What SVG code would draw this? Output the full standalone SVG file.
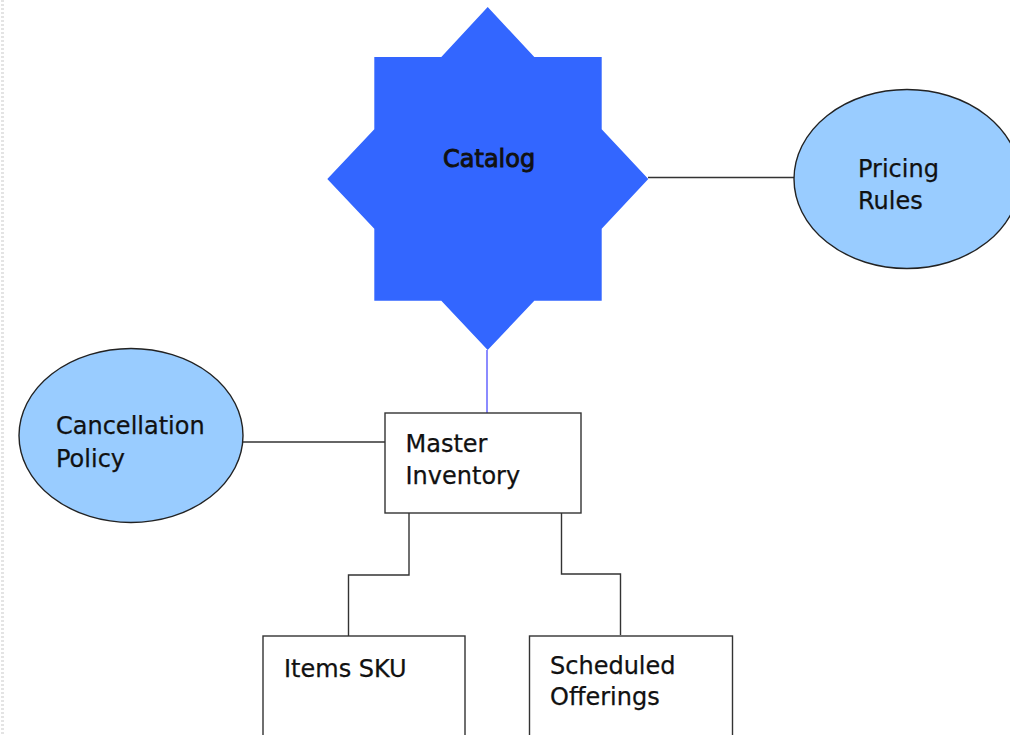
<svg xmlns="http://www.w3.org/2000/svg" width="1010" height="735" viewBox="0 0 1010 735">
  <style>
    .label { font-family: "DejaVu Sans", Verdana, sans-serif; font-size: 24px; fill: #111; stroke: #111; stroke-width: 0.25; }
    .title { stroke-width: 0.9; }
    .box { fill: #ffffff; stroke: #333; stroke-width: 1.4; }
    .oval { fill: #99ccff; stroke: #222; stroke-width: 1.4; }
    .wire { fill: none; stroke: #333; stroke-width: 1.4; }
    .wire-blue { fill: none; stroke: #5a5aff; stroke-width: 1.4; }
  </style>
  <rect width="1010" height="735" fill="#ffffff"/>
  <!-- faint textured left margin -->
  <line x1="2.5" y1="0" x2="2.5" y2="735" stroke="#e4e4e4" stroke-width="3" stroke-dasharray="2 2"/>

  <g id="connectors">
    <line class="wire" x1="648" y1="177.5" x2="794" y2="177.5"/>
    <line class="wire-blue" x1="487" y1="350" x2="487" y2="413"/>
    <line class="wire" x1="243" y1="442" x2="385" y2="442"/>
    <polyline class="wire" points="409,513 409,575 348.5,575 348.5,636"/>
    <polyline class="wire" points="561.5,513 561.5,574 620.5,574 620.5,635"/>
  </g>

  <g id="catalog">
    <path d="M487.7,7 L534.3,57 L601.7,57 L601.7,129.3 L648.3,179 L601.7,228.7 L601.7,300.7 L534.3,300.7 L487.7,350 L441.3,300.7 L374.3,300.7 L374.3,228.7 L327.3,179 L374.3,129.3 L374.3,57 L441.3,57 Z" fill="#3366ff"/>
    <text class="label title" x="443" y="167">Catalog</text>
  </g>

  <g id="pricing-rules">
    <ellipse class="oval" cx="907" cy="179" rx="113" ry="89.5"/>
    <text class="label" x="858" y="177">Pricing</text>
    <text class="label" x="858" y="208.5">Rules</text>
  </g>

  <g id="cancellation-policy">
    <ellipse class="oval" cx="131" cy="435.5" rx="112" ry="87"/>
    <text class="label" x="56" y="434">Cancellation</text>
    <text class="label" x="56" y="467">Policy</text>
  </g>

  <g id="master-inventory">
    <rect class="box" x="385" y="413" width="196" height="100"/>
    <text class="label" x="405.5" y="452">Master</text>
    <text class="label" x="405.5" y="484">Inventory</text>
  </g>

  <g id="items-sku">
    <rect class="box" x="263" y="636" width="202" height="110"/>
    <text class="label" x="284" y="677">Items SKU</text>
  </g>

  <g id="scheduled-offerings">
    <rect class="box" x="529.5" y="636" width="203" height="110"/>
    <text class="label" x="550" y="674">Scheduled</text>
    <text class="label" x="550" y="704.5">Offerings</text>
  </g>
</svg>
